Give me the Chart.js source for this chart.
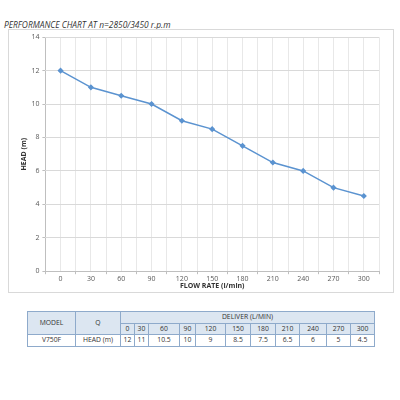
<!DOCTYPE html>
<html>
<head>
<meta charset="utf-8">
<script src="https://cdn.jsdelivr.net/npm/chart.js@4"></script>
<style>
  html, body { margin:0; padding:0; background:#fff; width:400px; height:400px; overflow:hidden; font-family:"Open Sans","Liberation Sans",sans-serif; }
  #title { position:absolute; left:4px; top:19px; font-size:8.4px; font-style:italic; color:#333; white-space:nowrap; }
  #box { position:absolute; left:8px; top:29px; width:384px; height:262px; border:1px solid #d9d9d9; }
  #box canvas { position:absolute; left:0; top:0; }
  table { position:absolute; left:27px; top:311px; border-collapse:collapse; table-layout:fixed; font-size:6.8px; color:#333; }
  td { border:1px solid #8eaacb; text-align:center; padding:0; height:10.5px; line-height:10.5px; }
  .hd { background:#dce6f1; }
</style>
</head>
<body>
<div id="title">PERFORMANCE CHART AT n=2850/3450 r.p.m</div>
<div id="box"><canvas id="c" width="384" height="262"></canvas></div>
<table id="tbl"></table>
<script>
const flowRates = [0, 30, 60, 90, 120, 150, 180, 210, 240, 270, 300];
const headValues = [12, 11, 10.5, 10, 9, 8.5, 7.5, 6.5, 6, 5, 4.5];
const yTicks = [0, 2, 4, 6, 8, 10, 12, 14];
const modelName = 'V750F';
const colWidths = [48, 45, 14, 14, 31, 16, 30, 25, 25, 24, 27, 24, 24];

const points = flowRates.map((q, i) => ({ x: q, y: headValues[i] }));

new Chart(document.getElementById('c'), {
  type: 'line',
  data: { datasets: [{
    data: points,
    borderColor: '#5b93d0',
    backgroundColor: '#5b93d0',
    borderWidth: 1.5,
    pointStyle: 'rectRot',
    pointRadius: 2,
    tension: 0,
    fill: false
  }]},
  options: {
    responsive: false,
    animation: false,
    devicePixelRatio: 1,
    layout: { padding: { left: 11, right: 14, top: 7, bottom: 2 } },
    plugins: { legend: { display: false }, tooltip: { enabled: false } },
    scales: {
      x: {
        type: 'linear',
        min: -15, max: 315,
        afterBuildTicks: (axis) => {
          const t = [];
          for (let v = -15; v <= 315; v += 15) t.push({ value: v });
          axis.ticks = t;
        },
        ticks: {
          autoSkip: false, maxRotation: 0,
          font: { size: 7, family: 'Open Sans' }, color: '#595959', padding: 1,
          callback: (v) => (flowRates.includes(v) ? String(v) : '')
        },
        grid: {
          color: (ctx) => (ctx.tick && ctx.tick.value === -15) ? '#bfbfbf' : '#e8e8e8',
          tickLength: 3,
          tickColor: (ctx) => (ctx.tick && flowRates.includes(ctx.tick.value)) ? 'rgba(0,0,0,0)' : '#bfbfbf'
        },
        border: { display: false },
        title: { display: true, text: 'FLOW RATE (l/min)', font: { size: 7, weight: 'bold', family: 'Open Sans' }, color: '#333', padding: { top: -3, bottom: 0 } }
      },
      y: {
        min: 0, max: 14,
        afterBuildTicks: (axis) => { axis.ticks = yTicks.map(v => ({ value: v })); },
        ticks: { font: { size: 7, family: 'Open Sans' }, color: '#595959', padding: 3 },
        grid: { color: (ctx) => ctx.tick && ctx.tick.value === 0 ? '#bfbfbf' : '#d9d9d9', tickLength: 3, tickColor: '#bfbfbf' },
        border: { display: false },
        title: { display: true, text: 'HEAD (m)', font: { size: 7, weight: 'bold', family: 'Open Sans' }, color: '#333', padding: { top: 0, bottom: 0 } }
      }
    }
  }
});

// Table
const tbl = document.getElementById('tbl');
const cg = document.createElement('colgroup');
colWidths.forEach(w => { const c = document.createElement('col'); c.style.width = w + 'px'; cg.appendChild(c); });
tbl.appendChild(cg);
const r1 = tbl.insertRow();
let c = r1.insertCell(); c.textContent = 'MODEL'; c.rowSpan = 2; c.className = 'hd';
c = r1.insertCell(); c.textContent = 'Q'; c.rowSpan = 2; c.className = 'hd';
c = r1.insertCell(); c.textContent = 'DELIVER (L/MIN)'; c.colSpan = flowRates.length; c.className = 'hd';
const r2 = tbl.insertRow();
flowRates.forEach(q => { const d = r2.insertCell(); d.textContent = q; d.className = 'hd'; });
const r3 = tbl.insertRow();
c = r3.insertCell(); c.textContent = modelName;
c = r3.insertCell(); c.textContent = 'HEAD (m)';
headValues.forEach(h => { const d = r3.insertCell(); d.textContent = h; });
</script>
</body>
</html>
